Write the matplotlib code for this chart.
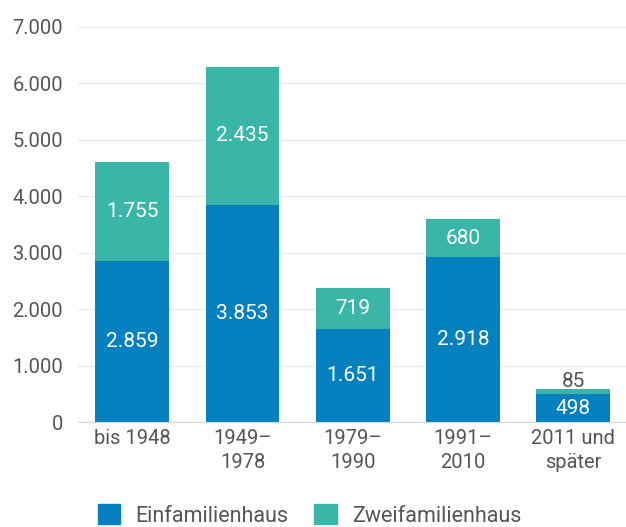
import matplotlib.pyplot as plt
import numpy as np
from matplotlib.patches import Patch

categories = ["bis 1948", "1949–\n1978", "1979–\n1990", "1991–\n2010", "2011 und\nspäter"]
einfamilienhaus = [2859, 3853, 1651, 2918, 498]
zweifamilienhaus = [1755, 2435, 719, 680, 85]
yticks = [0, 1000, 2000, 3000, 4000, 5000, 6000, 7000]

blue = "#0681bf"
teal = "#3ab6a9"
grey = "#555555"

plt.rcParams["font.family"] = ["Roboto", "DejaVu Sans"]


def fmt(v):
    return f"{v:,}".replace(",", ".")


fig = plt.figure(figsize=(6.26, 5.27), dpi=100)
ax = fig.add_axes([0.125, 0.199, 0.875, 0.75])

x = np.arange(len(categories))
ax.bar(x, einfamilienhaus, width=0.67, color=blue, zorder=2)
ax.bar(x, zweifamilienhaus, width=0.67, bottom=einfamilienhaus, color=teal, zorder=2)

# value labels
for i, (a, b) in enumerate(zip(einfamilienhaus, zweifamilienhaus)):
    ax.text(i, a / 2, fmt(a), ha="center", va="center", color="white", fontsize=15)
    if b > 300:
        ax.text(i, a + b / 2, fmt(b), ha="center", va="center", color="white", fontsize=15)
    else:
        ax.text(i, a + b - 30, fmt(b), ha="center", va="bottom", color=grey, fontsize=15)

ax.set_xlim(-0.49, 4.48)
ax.set_ylim(0, 7000)
ax.set_yticks(yticks)
ax.set_yticklabels([fmt(t) for t in yticks])
ax.set_xticks(x)
ax.set_xticklabels(categories, linespacing=1.35)
ax.tick_params(axis="both", length=0, labelsize=14.5, labelcolor=grey)
ax.tick_params(axis="y", pad=11)
ax.tick_params(axis="x", pad=5)

ax.grid(axis="y", color="#ececec", linewidth=1, zorder=0)
for s in ["top", "right", "left"]:
    ax.spines[s].set_visible(False)
ax.spines["bottom"].set_color("#d8d8d8")
ax.spines["bottom"].set_zorder(3)

handles = [Patch(color=blue, label="Einfamilienhaus"), Patch(color=teal, label="Zweifamilienhaus")]
fig.legend(handles=handles, loc="lower left", bbox_to_anchor=(0.125, -0.036), ncol=2,
           frameon=False, fontsize=15.5, labelcolor=grey, handlelength=1.05, handleheight=1.05,
           columnspacing=1.2, handletextpad=0.7)

fig.savefig("out.png", dpi=100)
